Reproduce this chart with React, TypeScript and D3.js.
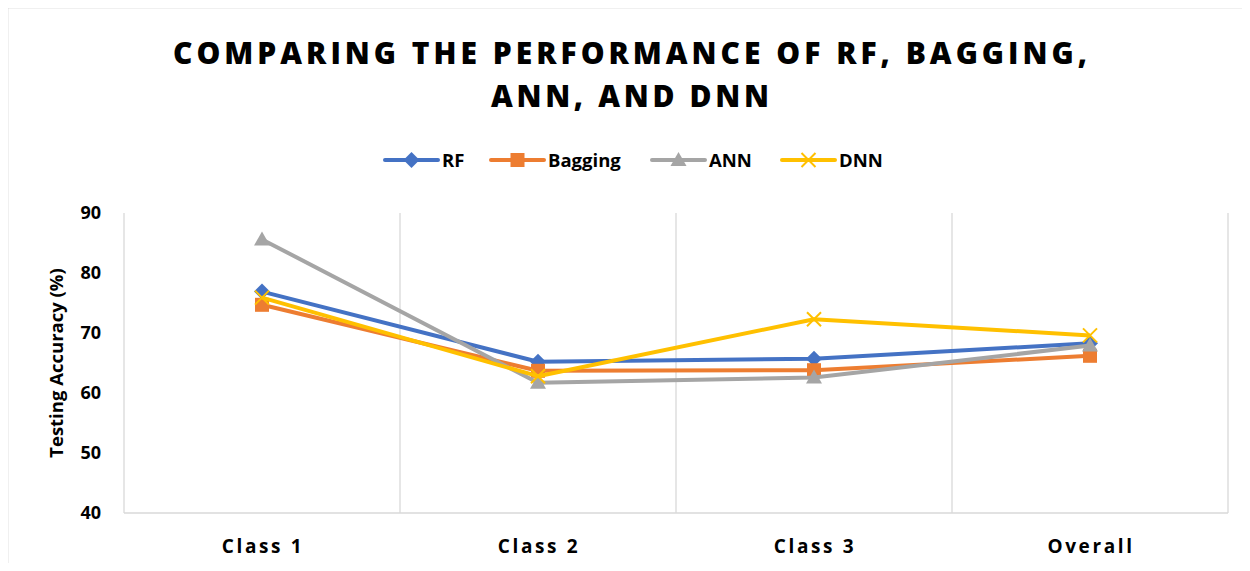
import React, { useEffect, useRef } from "react";
import * as d3 from "d3";

const categories = ["Class 1", "Class 2", "Class 3", "Overall"];
const seriesNames = ["RF", "Bagging", "ANN", "DNN"];
const rfValues = [76.9, 65.2, 65.7, 68.3];
const baggingValues = [74.7, 63.7, 63.8, 66.2];
const annValues = [85.6, 61.7, 62.6, 67.9];
const dnnValues = [75.9, 62.8, 72.3, 69.6];
const yTicks = [40, 50, 60, 70, 80, 90];
const titleLines = ["COMPARING THE PERFORMANCE OF RF, BAGGING,", "ANN, AND DNN"];

const colors = ["#4472C4", "#ED7D31", "#A5A5A5", "#FFC000"];
const markers = ["diamond", "square", "triangle", "x"];

const W = 1250;
const H = 571;
const FONT = "'Open Sans', sans-serif";

function drawMarker(g: any, kind: string, x: number, y: number, color: string) {
  if (kind === "diamond") {
    g.append("path").attr("d", `M${x},${y - 8}L${x + 8},${y}L${x},${y + 8}L${x - 8},${y}Z`).attr("fill", color);
  } else if (kind === "square") {
    g.append("rect").attr("x", x - 7).attr("y", y - 7).attr("width", 14).attr("height", 14).attr("fill", color);
  } else if (kind === "triangle") {
    g.append("path").attr("d", `M${x},${y - 8}L${x + 8},${y + 6}L${x - 8},${y + 6}Z`).attr("fill", color);
  } else {
    g.append("path").attr("d", `M${x - 7},${y - 7}L${x + 7},${y + 7}M${x - 7},${y + 7}L${x + 7},${y - 7}`)
      .attr("stroke", color).attr("stroke-width", 2);
  }
}

export default function App() {
  const ref = useRef<SVGSVGElement>(null);

  useEffect(() => {
    const svg = d3.select(ref.current);
    svg.selectAll("*").remove();

    const left = 124, right = 1228, top = 213, bottom = 513;

    // chart frame
    svg.append("path").attr("d", `M7.5,${H}V7.5H${W}`)
      .attr("fill", "none").attr("stroke", "#c4c4c4").attr("stroke-width", 1.5);

    const x = d3.scaleBand().domain(categories).range([left, right]);
    const y = d3.scaleLinear().domain([40, 90]).range([bottom, top]);

    // vertical gridlines between categories
    const gridX = categories.map((c) => (x(c) as number) + x.bandwidth());
    svg.append("g").selectAll("line").data(gridX).join("line")
      .attr("x1", (d) => d).attr("x2", (d) => d).attr("y1", top).attr("y2", bottom)
      .attr("stroke", "#d9d9d9").attr("stroke-width", 1.3);
    svg.append("line").attr("x1", left).attr("x2", left).attr("y1", top).attr("y2", bottom)
      .attr("stroke", "#d9d9d9").attr("stroke-width", 1.3);
    svg.append("line").attr("x1", left).attr("x2", right).attr("y1", bottom).attr("y2", bottom)
      .attr("stroke", "#d9d9d9").attr("stroke-width", 1.3);

    // y tick labels
    svg.append("g").selectAll("text").data(yTicks).join("text")
      .attr("x", 101).attr("y", (d) => y(d)).attr("dy", "0.36em").attr("text-anchor", "end")
      .attr("font-family", FONT).attr("font-weight", "bold").attr("font-size", 18).attr("fill", "#000")
      .text((d) => d);

    // category labels
    svg.append("g").selectAll("text").data(categories).join("text")
      .attr("x", (d) => (x(d) as number) + x.bandwidth() / 2 + 1).attr("y", 553).attr("text-anchor", "middle")
      .attr("font-family", FONT).attr("font-weight", "bold").attr("font-size", 19).attr("letter-spacing", 2.6)
      .attr("fill", "#000").text((d) => d);

    // axis title
    svg.append("text").attr("transform", `translate(63,${(top + bottom) / 2 + 0}) rotate(-90)`)
      .attr("text-anchor", "middle").attr("font-family", FONT).attr("font-weight", "bold")
      .attr("font-size", 18.5).attr("fill", "#000").text("Testing Accuracy (%)");

    // title
    const titleWidths = [914, 278];
    titleLines.forEach((t, i) => {
      svg.append("text").attr("x", 630 - titleWidths[i] / 2).attr("y", 64 + i * 43)
        .attr("font-family", FONT).attr("font-weight", 800).attr("font-size", 30)
        .attr("textLength", titleWidths[i]).attr("lengthAdjust", "spacing")
        .attr("fill", "#000").text(t);
    });

    const allValues = [rfValues, baggingValues, annValues, dnnValues];
    const line = d3.line<number>()
      .x((_, i) => (x(categories[i]) as number) + x.bandwidth() / 2)
      .y((d) => y(d));

    allValues.forEach((vals, si) => {
      const g = svg.append("g");
      g.append("path").attr("d", line(vals)).attr("fill", "none").attr("stroke", colors[si])
        .attr("stroke-width", 4).attr("stroke-linejoin", "round");
      vals.forEach((v, i) => {
        drawMarker(g, markers[si], (x(categories[i]) as number) + x.bandwidth() / 2, y(v), colors[si]);
      });
    });

    // legend
    const legendX = [385, 491, 652, 782];
    seriesNames.forEach((name, si) => {
      const g = svg.append("g");
      const lx = legendX[si];
      g.append("line").attr("x1", lx).attr("x2", lx + 53).attr("y1", 160).attr("y2", 160)
        .attr("stroke", colors[si]).attr("stroke-width", 4).attr("stroke-linecap", "round");
      drawMarker(g, markers[si], lx + 26.5, 160, colors[si]);
      g.append("text").attr("x", lx + 57).attr("y", 160).attr("dy", "0.36em")
        .attr("font-family", FONT).attr("font-weight", "bold").attr("font-size", 18.5).attr("fill", "#000")
        .text(name);
    });
  }, []);

  return (
    <div style={{ margin: -8 }}>
      <svg ref={ref} width={W} height={H} style={{ display: "block" }} />
    </div>
  );
}
